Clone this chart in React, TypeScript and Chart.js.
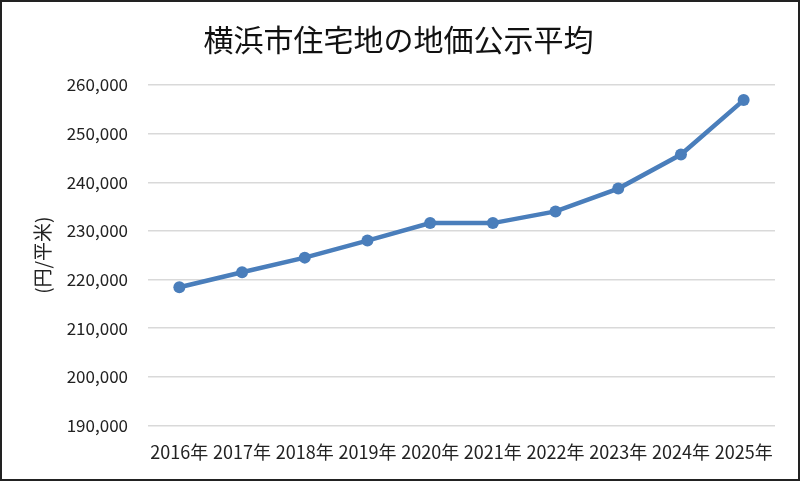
import { useEffect, useRef } from 'react';
import { Chart, registerables } from 'chart.js';

Chart.register(...registerables);

const years = ['2016年', '2017年', '2018年', '2019年', '2020年', '2021年', '2022年', '2023年', '2024年', '2025年'];
const avgPrice = [218400, 221500, 224500, 228000, 231600, 231600, 234000, 238700, 245700, 256900];

const FONT = '"Noto Sans CJK JP", "Noto Sans", sans-serif';

const App = () => {
  const canvasRef = useRef<HTMLCanvasElement>(null);
  const chartRef = useRef<Chart | null>(null);

  useEffect(() => {
    if (!canvasRef.current) return;
    if (chartRef.current) {
      chartRef.current.destroy();
    }
    const ctx = canvasRef.current.getContext('2d');
    if (!ctx) return;

    chartRef.current = new Chart(ctx, {
      type: 'line',
      data: {
        labels: years,
        datasets: [{
          data: avgPrice,
          borderColor: '#4a7ebb',
          backgroundColor: '#4a7ebb',
          borderWidth: 4.5,
          pointRadius: 6,
          pointBorderWidth: 0,
          tension: 0,
        }]
      },
      options: {
        animation: false,
        responsive: false,
        maintainAspectRatio: false,
        layout: {
          padding: { left: 20, right: 23, top: 20, bottom: 8 }
        },
        plugins: {
          legend: { display: false },
          tooltip: { enabled: false },
          title: {
            display: true,
            text: '横浜市住宅地の地価公示平均',
            color: '#111',
            font: { family: FONT, size: 30, weight: 'normal' },
            padding: { top: 0, bottom: 27 }
          }
        },
        scales: {
          x: {
            offset: true,
            grid: { display: false, offset: true },
            border: { display: false },
            ticks: {
              color: '#222',
              font: { family: FONT, size: 18 },
              padding: 8,
              maxRotation: 0,
              autoSkip: false
            }
          },
          y: {
            min: 190000,
            max: 260000,
            grid: { color: '#d9d9d9', lineWidth: 1.5, drawTicks: false },
            border: { display: false },
            ticks: {
              stepSize: 10000,
              color: '#222',
              padding: 20,
              font: { family: FONT, size: 17 },
              callback: (v) => Number(v).toLocaleString('en-US')
            },
            title: {
              display: true,
              text: '(円/平米)',
              color: '#222',
              font: { family: FONT, size: 19 },
              padding: { top: 9, bottom: 0 }
            },
            afterFit: (scale) => { scale.width = 126; }
          }
        }
      }
    });

    return () => {
      if (chartRef.current) {
        chartRef.current.destroy();
      }
    };
  }, []);

  return (
    <div style={{
      position: 'fixed', left: 0, top: 0, width: 800, height: 481,
      boxSizing: 'border-box', border: '2px solid #222', background: '#fff'
    }}>
      <canvas ref={canvasRef} width={796} height={477} style={{ display: 'block', width: 796, height: 477 }} />
    </div>
  );
};

export default App;
